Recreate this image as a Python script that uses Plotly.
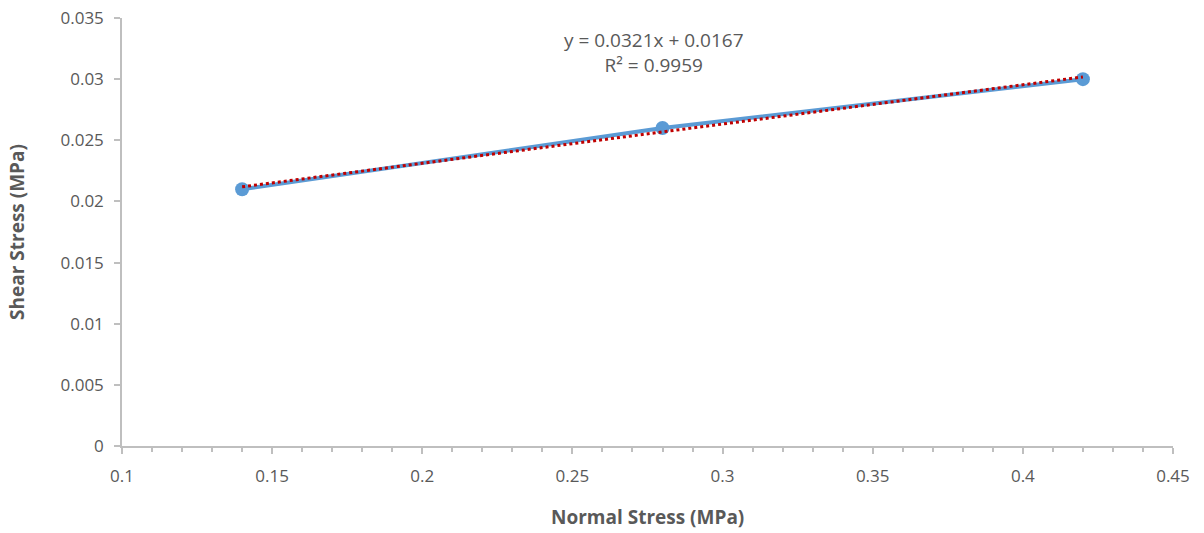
import plotly.graph_objects as go

normal_stress = [0.14, 0.28, 0.42]
shear_stress = [0.021, 0.026, 0.030]
slope = 0.0321
intercept = 0.0167
r2 = 0.9959

trend_x = [normal_stress[0], normal_stress[-1]]
trend_y = [slope * x + intercept for x in trend_x]

grey = "#595959"
axis_col = "#BFBFBF"
font_fam = "Open Sans, Liberation Sans, sans-serif"

fig = go.Figure()
fig.add_trace(go.Scatter(x=normal_stress, y=shear_stress, mode="lines+markers",
                         line=dict(color="#5B9BD5", width=4),
                         marker=dict(color="#5B9BD5", size=14),
                         showlegend=False))
fig.add_trace(go.Scatter(x=trend_x, y=trend_y, mode="lines",
                         line=dict(color="#C00000", width=3, dash="dot"),
                         showlegend=False))

fig.add_annotation(x=0.277, y=0.0322, xref="x", yref="y",
                   text=f"y = {slope}x + {intercept}<br>R² = {r2}",
                   showarrow=False, font=dict(family=font_fam, size=19, color=grey),
                   align="center")

# axis titles
fig.add_annotation(x=0.5, y=-0.165, xref="paper", yref="paper",
                   text="<b>Normal Stress (MPa)</b>", showarrow=False,
                   font=dict(family=font_fam, size=19, color=grey),
                   xanchor="center", yanchor="middle")
fig.add_annotation(x=-0.1, y=0.5, xref="paper", yref="paper",
                   text="<b>Shear Stress (MPa)</b>", showarrow=False, textangle=-90,
                   font=dict(family=font_fam, size=19, color=grey),
                   xanchor="center", yanchor="middle")

fig.update_layout(
    width=1204, height=533,
    margin=dict(l=122, r=31, t=18, b=87),
    plot_bgcolor="white", paper_bgcolor="white",
    font=dict(family=font_fam, color=grey, size=17),
    xaxis=dict(range=[0.1, 0.45], dtick=0.05, tick0=0.1, showgrid=False,
               showline=True, linecolor=axis_col, linewidth=1.5,
               ticks="outside", ticklen=6, tickcolor=axis_col, tickwidth=1.5,
               ticklabelstandoff=8, automargin=False,
               tickfont=dict(size=17, color=grey),
               minor=dict(ticks="outside", ticklen=4, dtick=0.01, tickcolor=axis_col, tickwidth=1.5),
               zeroline=False),
    yaxis=dict(range=[0, 0.035], dtick=0.005, showgrid=False,
               showline=True, linecolor=axis_col, linewidth=1.5,
               ticks="outside", ticklen=6, tickcolor=axis_col, tickwidth=1.5,
               ticklabelstandoff=7, automargin=False,
               tickfont=dict(size=17, color=grey), zeroline=False,
               tickformat="~g"),
)

fig.write_html("out.html")
